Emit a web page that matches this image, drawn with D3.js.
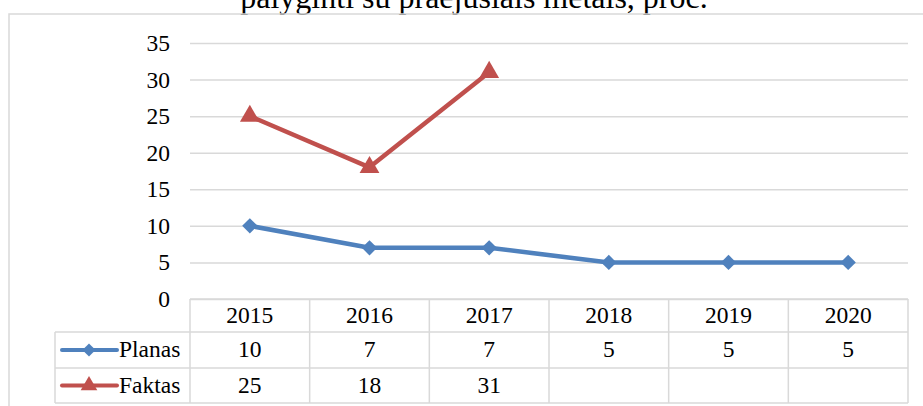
<!DOCTYPE html>
<html>
<head>
<meta charset="utf-8">
<script src="https://cdn.jsdelivr.net/npm/d3@7"></script>
<style>
  body { margin: 0; background: #fff; }
  svg { display: block; font-family: "Liberation Serif", "Times New Roman", serif; }
  svg text { font-family: "Liberation Serif", "Times New Roman", serif; fill: #000; }
</style>
</head>
<body>
<svg id="chart" width="923" height="406"></svg>
<script>
// DATA //
var years = ['2015', '2016', '2017', '2018', '2019', '2020']
var planas = [10, 7, 7, 5, 5, 5]
var faktas = [25, 18, 31, null, null, null]
var yTicks = [0, 5, 10, 15, 20, 25, 30, 35]
var titleText = 'palyginti su praėjusiais metais, proc.'

var series = [
    {name: 'Planas', values: planas, color: '#4F81BD', marker: 'diamond'},
    {name: 'Faktas', values: faktas, color: '#C0504D', marker: 'triangle'}
]

// LAYOUT //
var plotLeft = 190, plotRight = 908, plotTop = 43, plotBottom = 299
var rowH = [33, 36, 35]
var legendLeft = 55
var grid = '#D9D9D9'
var fs = 23.5

var svg = d3.select('#chart')

// title, mostly cut off at the top
svg.append('text')
    .attr('x', 474)
    .attr('y', 8)
    .attr('text-anchor', 'middle')
    .attr('font-size', 32)
    .text(titleText)

// chart frame
svg.append('rect')
    .attr('x', 9).attr('y', 14)
    .attr('width', 925).attr('height', 420)
    .attr('fill', 'none')
    .attr('stroke', grid)
    .attr('stroke-width', 1.5)

var x = d3.scaleBand().domain(years).range([plotLeft, plotRight])
var y = d3.scaleLinear().domain([0, 35]).range([plotBottom, plotTop])

// Y AXIS + GRID //
var yAxis = svg.append('g')
    .attr('transform', `translate(${plotLeft},0)`)
    .call(d3.axisLeft(y).tickValues(yTicks).tickSize(-(plotRight - plotLeft)).tickPadding(20))
yAxis.select('.domain').remove()
yAxis.selectAll('.tick line').attr('stroke', grid).attr('stroke-width', 1.5)
yAxis.selectAll('.tick text')
    .attr('font-size', fs)
    .attr('font-family', '"Liberation Serif", serif')
    .attr('fill', '#000')
    .attr('dy', '0.32em')

// DATA TABLE //
var table = svg.append('g')
var rowY = [plotBottom, plotBottom + rowH[0], plotBottom + rowH[0] + rowH[1], plotBottom + rowH[0] + rowH[1] + rowH[2]]

table.append('line')
    .attr('x1', plotLeft).attr('x2', plotRight)
    .attr('y1', rowY[0]).attr('y2', rowY[0])
    .attr('stroke', grid).attr('stroke-width', 1.5)

rowY.slice(1).forEach(function(ry){
    table.append('line')
        .attr('x1', legendLeft).attr('x2', plotRight)
        .attr('y1', ry).attr('y2', ry)
        .attr('stroke', grid).attr('stroke-width', 1.5)
})

table.append('line')
    .attr('x1', legendLeft).attr('x2', legendLeft)
    .attr('y1', rowY[1]).attr('y2', rowY[3])
    .attr('stroke', grid).attr('stroke-width', 1.5)

years.concat(['end']).forEach(function(d, i){
    var cx = plotLeft + i * x.bandwidth()
    table.append('line')
        .attr('x1', cx).attr('x2', cx)
        .attr('y1', rowY[0]).attr('y2', rowY[3])
        .attr('stroke', grid).attr('stroke-width', 1.5)
})

// header row
table.selectAll('.yr')
    .data(years)
    .enter()
    .append('text')
    .attr('x', (d)=>x(d) + x.bandwidth()/2)
    .attr('y', rowY[0] + 24)
    .attr('text-anchor', 'middle')
    .attr('font-size', fs)
    .text((d)=>d)

var diamondType = d3.symbolDiamond2 || d3.symbolDiamond

series.forEach(function(s, si){
    var ry = rowY[si + 1]
    var mid = ry + (rowY[si + 2] - ry)/2

    // legend key
    table.append('line')
        .attr('x1', 62).attr('x2', 117)
        .attr('y1', mid).attr('y2', mid)
        .attr('stroke', s.color).attr('stroke-width', 4)
        .attr('stroke-linecap', 'round')
    table.append('path')
        .attr('d', s.marker === 'diamond' ? d3.symbol().type(diamondType).size(110)() : d3.symbol().type(d3.symbolTriangle).size(120)())
        .attr('transform', `translate(89,${mid})`)
        .attr('fill', s.color)

    table.append('text')
        .attr('x', 119)
        .attr('y', mid + 7)
        .attr('font-size', fs)
        .text(s.name)

    table.selectAll('.v' + si)
        .data(s.values)
        .enter()
        .append('text')
        .attr('x', (d, i)=>x(years[i]) + x.bandwidth()/2)
        .attr('y', mid + 7)
        .attr('text-anchor', 'middle')
        .attr('font-size', fs)
        .text((d)=>d == null ? '' : d)
})

// LINES //
var line = d3.line()
    .defined((d)=>d != null)
    .x((d, i)=>x(years[i]) + x.bandwidth()/2)
    .y((d)=>y(d))

series.forEach(function(s){
    svg.append('path')
        .datum(s.values)
        .attr('fill', 'none')
        .attr('stroke', s.color)
        .attr('stroke-width', 4.5)
        .attr('stroke-linejoin', 'round')
        .attr('stroke-linecap', 'round')
        .attr('d', line)

    svg.selectAll(null)
        .data(s.values.map((v, i)=>({v: v, i: i})).filter((d)=>d.v != null))
        .enter()
        .append('path')
        .attr('d', s.marker === 'diamond' ? d3.symbol().type(diamondType).size(150)() : d3.symbol().type(d3.symbolTriangle).size(170)())
        .attr('transform', (d)=>`translate(${x(years[d.i]) + x.bandwidth()/2},${y(d.v)})`)
        .attr('fill', s.color)
})
</script>
</body>
</html>
